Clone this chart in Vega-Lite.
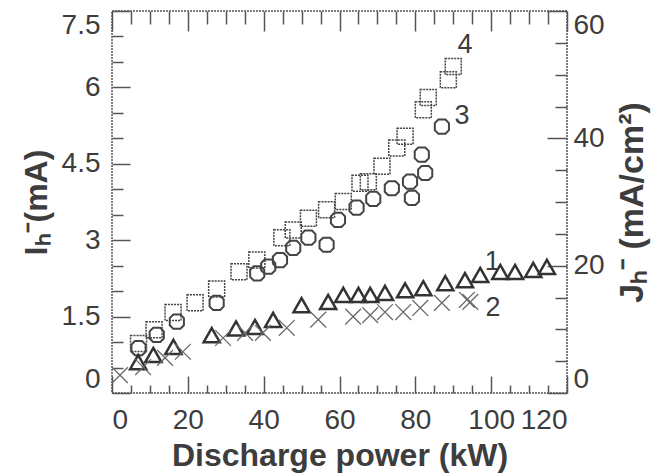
{
  "$schema": "https://vega.github.io/schema/vega-lite/v6.json",
  "width": 455,
  "height": 382,
  "autosize": "none",
  "padding": {"left": 112, "top": 11, "right": 103, "bottom": 82},
  "background": "white",
  "config": {
    "view": {"stroke": "#555", "strokeWidth": 1.5, "strokeDash": [2, 1]},
    "axis": {
      "domain": false,
      "grid": false,
      "labelFont": "Liberation Sans",
      "labelFontSize": 28,
      "labelColor": "#3d3d3d",
      "titleFont": "Liberation Sans",
      "titleFontSize": 31,
      "titleFontWeight": "bold",
      "titleColor": "#3d3d3d",
      "tickColor": "#555",
      "tickWidth": 1.5
    }
  },
  "datasets": {
    "s4": [
      {"p": 7.0, "i": 0.97}, {"p": 11.1, "i": 1.24}, {"p": 16.1, "i": 1.58}, {"p": 21.9, "i": 1.77},
      {"p": 27.6, "i": 2.04}, {"p": 33.5, "i": 2.38}, {"p": 38.2, "i": 2.61}, {"p": 44.8, "i": 3.05},
      {"p": 47.8, "i": 3.2}, {"p": 51.8, "i": 3.43}, {"p": 56.6, "i": 3.6}, {"p": 61.0, "i": 3.76},
      {"p": 65.4, "i": 4.12}, {"p": 67.6, "i": 4.15}, {"p": 71.2, "i": 4.45}, {"p": 75.1, "i": 4.81},
      {"p": 77.3, "i": 5.04}, {"p": 82.1, "i": 5.56}, {"p": 83.4, "i": 5.8}, {"p": 88.7, "i": 6.15},
      {"p": 90.0, "i": 6.41}
    ],
    "s3": [
      {"p": 7.0, "i": 0.88}, {"p": 11.8, "i": 1.14}, {"p": 17.1, "i": 1.4}, {"p": 27.6, "i": 1.77},
      {"p": 38.3, "i": 2.35}, {"p": 41.2, "i": 2.48}, {"p": 44.3, "i": 2.61}, {"p": 47.8, "i": 2.85},
      {"p": 51.8, "i": 3.05}, {"p": 56.6, "i": 2.91}, {"p": 59.6, "i": 3.4}, {"p": 64.5, "i": 3.64},
      {"p": 68.9, "i": 3.81}, {"p": 73.8, "i": 4.02}, {"p": 78.6, "i": 4.15}, {"p": 79.1, "i": 3.83},
      {"p": 82.6, "i": 4.32}, {"p": 81.7, "i": 4.68}, {"p": 87.0, "i": 5.23}
    ],
    "s1": [
      {"p": 6.9, "i": 0.61}, {"p": 10.9, "i": 0.75}, {"p": 16.2, "i": 0.91}, {"p": 26.3, "i": 1.14},
      {"p": 32.7, "i": 1.27}, {"p": 37.7, "i": 1.3}, {"p": 42.5, "i": 1.44}, {"p": 50.0, "i": 1.73},
      {"p": 57.0, "i": 1.79}, {"p": 61.0, "i": 1.93}, {"p": 65.0, "i": 1.93}, {"p": 68.1, "i": 1.93},
      {"p": 72.0, "i": 1.97}, {"p": 77.3, "i": 2.02}, {"p": 82.1, "i": 2.06}, {"p": 87.9, "i": 2.16},
      {"p": 93.1, "i": 2.22}, {"p": 97.1, "i": 2.32}, {"p": 102.4, "i": 2.38}, {"p": 106.3, "i": 2.38},
      {"p": 111.1, "i": 2.42}, {"p": 114.7, "i": 2.48}
    ],
    "s2": [
      {"p": 2.1, "i": 0.35}, {"p": 8.2, "i": 0.51}, {"p": 14.0, "i": 0.69}, {"p": 18.7, "i": 0.81},
      {"p": 29.3, "i": 1.08}, {"p": 35.1, "i": 1.18}, {"p": 39.8, "i": 1.18}, {"p": 46.1, "i": 1.28},
      {"p": 54.4, "i": 1.44}, {"p": 63.6, "i": 1.5}, {"p": 68.1, "i": 1.53}, {"p": 72.0, "i": 1.59},
      {"p": 76.8, "i": 1.59}, {"p": 81.3, "i": 1.67}, {"p": 87.0, "i": 1.77}, {"p": 93.6, "i": 1.83},
      {"p": 94.5, "i": 1.79}
    ],
    "labels": [
      {"t": "4", "p": 93.1, "i": 6.84}, {"t": "3", "p": 92.3, "i": 5.43},
      {"t": "1", "p": 100.3, "i": 2.58}, {"t": "2", "p": 100.5, "i": 1.67}
    ],
    "jaxis": [{"p": 0, "j": 0}, {"p": 120, "j": 60}]
  },
  "layer": [
    {
      "encoding": {
        "x": {"field": "p", "type": "quantitative", "scale": {"domain": [0, 120], "nice": false},
          "axis": {"orient": "bottom", "title": "Discharge power (kW)", "titleFontSize": 32,
            "values": [0,5,10,15,20,25,30,35,40,45,50,55,60,65,70,75,80,85,90,95,100,105,110,115,120],
            "tickSize": {"condition": {"test": "datum.value % 20 === 0", "value": -17}, "value": -8},
            "labelExpr": "datum.value % 20 === 0 ? datum.label : ''",
            "labelPadding": 30, "titlePadding": 6}},
        "y": {"field": "i", "type": "quantitative", "scale": {"domain": [0, 7.5], "nice": false},
          "axis": {"orient": "left", "title": "Iₕ⁻(mA)", "titleFontSize": 32,
            "values": [0,0.5,1,1.5,2,2.5,3,3.5,4,4.5,5,5.5,6,6.5,7,7.5],
            "tickSize": {"condition": {"test": "abs(datum.value/1.5 - round(datum.value/1.5)) < 0.001", "value": -18}, "value": -11},
            "labelExpr": "abs(datum.value/1.5 - round(datum.value/1.5)) < 0.001 ? '' + datum.value : ''",
            "labelFlush": true, "labelPadding": 30, "titlePadding": 8}}
      },
      "layer": [
        {
          "data": {"name": "s4"},
          "mark": {"type": "point", "shape": "square", "filled": false, "stroke": "#444", "strokeWidth": 1.5, "strokeDash": [2, 1], "size": 256, "opacity": 1}
        },
        {
          "data": {"name": "s3"},
          "mark": {"type": "point", "shape": "M-0.5,-1L0.5,-1L1,-0.5L1,0.5L0.5,1L-0.5,1L-1,0.5L-1,-0.5Z", "filled": false, "stroke": "#444", "strokeWidth": 2, "size": 200, "opacity": 1}
        },
        {
          "data": {"name": "s1"},
          "mark": {"type": "point", "shape": "M0,-0.85L1,0.9L-1,0.9Z", "filled": false, "stroke": "#333", "strokeWidth": 2.5, "size": 260, "opacity": 1}
        },
        {
          "data": {"name": "s2"},
          "mark": {"type": "point", "shape": "M-1,-1L1,1M1,-1L-1,1", "filled": false, "stroke": "#6a6a6a", "strokeWidth": 1.3, "size": 250, "opacity": 1}
        },
        {
          "data": {"name": "labels"},
          "mark": {"type": "text", "font": "Liberation Sans", "fontSize": 27, "color": "#3d3d3d", "align": "center", "baseline": "middle"},
          "encoding": {"text": {"field": "t"}}
        }
      ]
    },
    {
      "data": {"name": "jaxis"},
      "mark": {"type": "point", "opacity": 0},
      "encoding": {
        "x": {"field": "p", "type": "quantitative", "scale": {"domain": [0, 120], "nice": false},
          "axis": {"orient": "top", "title": null, "labels": false,
            "values": [0,5,10,15,20,25,30,35,40,45,50,55,60,65,70,75,80,85,90,95,100,105,110,115,120],
            "tickSize": {"condition": {"test": "datum.value % 20 === 0", "value": -20}, "value": -13}}},
        "y": {"field": "j", "type": "quantitative", "scale": {"domain": [0, 60], "nice": false},
          "axis": {"orient": "right", "title": "Jₕ⁻ (mA/cm²)", "titleAngle": -90, "titleFontSize": 34,
            "values": [0,5,10,15,20,25,30,35,40,45,50,55,60],
            "tickSize": {"condition": {"test": "datum.value % 20 === 0", "value": -20}, "value": -12},
            "labelExpr": "datum.value % 20 === 0 ? datum.label : ''",
            "labelFlush": true, "labelPadding": 26, "titlePadding": 45}}
      }
    }
  ],
  "resolve": {"scale": {"y": "independent"}}
}
